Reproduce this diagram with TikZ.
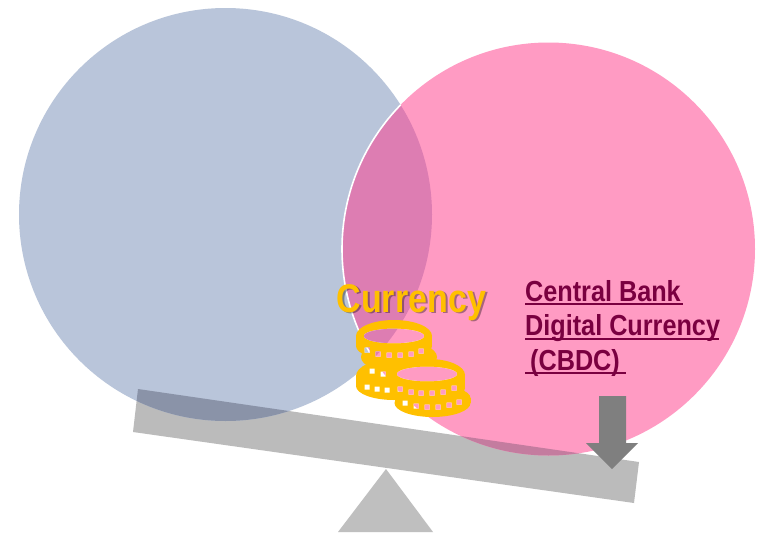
\documentclass[tikz,border=0pt]{standalone}
\usepackage{fontspec}
\setmainfont{Liberation Sans}
\definecolor{bluec}{HTML}{B9C5DA}
\definecolor{pinkc}{HTML}{FF9BC3}
\definecolor{overlapc}{HTML}{DD7DB2}
\definecolor{beamc}{HTML}{BBBBBB}
\definecolor{triac}{HTML}{BFBFBF}
\definecolor{beamblue}{HTML}{8A93A8}
\definecolor{beampink}{HTML}{C47C9F}
\definecolor{arrowc}{HTML}{7F7F7F}
\definecolor{goldc}{HTML}{FFC000}
\definecolor{wine}{HTML}{7A0040}
\newcommand{\beampath}{(138,389) -- (639,462) -- (634,503) -- (133,432) -- cycle}
\newcommand{\bluepath}{(225.5,214.5) circle[radius=206.5]}
\newcommand{\pinkpath}{(548.5,249) circle[radius=206.5]}
\newcommand{\myscene}{%
  \fill[white] (0,0) rectangle (761,536);
  \fill[beamc] \beampath;
  \fill[bluec] \bluepath;
  \begin{scope}\clip \bluepath; \fill[beamblue] \beampath; \end{scope}
  \fill[pinkc] \pinkpath;
  \begin{scope}\clip \pinkpath; \fill[overlapc] \bluepath; \end{scope}
  \begin{scope}\clip \pinkpath; \fill[beampink] \beampath; \end{scope}
  \begin{scope}\clip \bluepath; \draw[white,line width=1.6] \pinkpath; \end{scope}
}
\newcommand{\win}[2]{(#1-2.5,#2-2.5) rectangle (#1+2.5,#2+2.5)}
\tikzset{
  coinfill/.style={fill=goldc},
  cbdc/.style={text=wine,font=\bfseries\fontsize{29}{29}\selectfont,anchor=base west,inner sep=0pt,xscale=.87},
  curr/.style={font=\bfseries\fontsize{40}{40}\selectfont,anchor=base west,inner sep=0pt,xscale=.85},
  ul/.style={wine,line width=1.3}
}
\begin{document}
\begin{tikzpicture}[x=1pt,y=-1pt]
\useasboundingbox (0,0) rectangle (761,536);
\myscene
% fulcrum
\fill[triac] (386,469) -- (433,532) -- (338,532) -- cycle;
% arrow
\fill[arrowc] (599,396) -- (626,396) -- (626,443) -- (638,443) -- (612,469) -- (586,443) -- (599,443) -- cycle;
% currency label
\node[curr,text=black,opacity=.35] (currshadow) at (338.5,313.5) {Currency};
\node[curr,text=goldc] (curr) at (336.5,312) {Currency};
% coins
\fill[coinfill] (394,336) ellipse[x radius=38,y radius=16];
\fill[coinfill] (399,357) ellipse[x radius=38,y radius=16];
\fill[coinfill] (356,336) rectangle (432,346);
\fill[coinfill] (394,346) ellipse[x radius=38,y radius=14];
\fill[coinfill] (394,376) ellipse[x radius=38,y radius=17];
\fill[coinfill] (356,376) rectangle (432,386);
\fill[coinfill] (394,386) ellipse[x radius=38,y radius=14];
\fill[coinfill] (429,375) ellipse[x radius=36,y radius=16];
\fill[coinfill] (393,375) rectangle (465,388);
\fill[coinfill] (429,388) ellipse[x radius=36,y radius=14];
\fill[coinfill] (432.5,398) ellipse[x radius=38,y radius=13];
\fill[coinfill] (394.5,398) rectangle (470.5,403);
\fill[coinfill] (432.5,403) ellipse[x radius=38,y radius=14];
\begin{scope}
\clip (394,336) ellipse[x radius=30,y radius=7.2]
      (427,374) ellipse[x radius=30,y radius=7.2]
      \win{367}{350} \win{378}{354} \win{389}{355} \win{400}{355} \win{411}{354} \win{421}{351}
      \win{372}{371} \win{383}{374}
      \win{367}{387} \win{377}{389} \win{387}{390}
      \win{400}{389} \win{411}{392} \win{421}{393} \win{432}{393} \win{443}{392} \win{454}{388}
      \win{405}{403} \win{416}{406} \win{427}{407} \win{438}{407} \win{449}{405} \win{459}{402};
\myscene
\end{scope}
% CBDC label
\node[cbdc] (l1) at (525,301) {Central Bank};
\node[cbdc] (l2) at (525,335.5) {Digital Currency};
\node[cbdc] (l3) at (530,370) {(CBDC)};
\draw[ul] (525,304) -- (683,304);
\draw[ul] (525,339) -- (719,339);
\draw[ul] (525,373) -- (626,373);
\end{tikzpicture}
\end{document}
